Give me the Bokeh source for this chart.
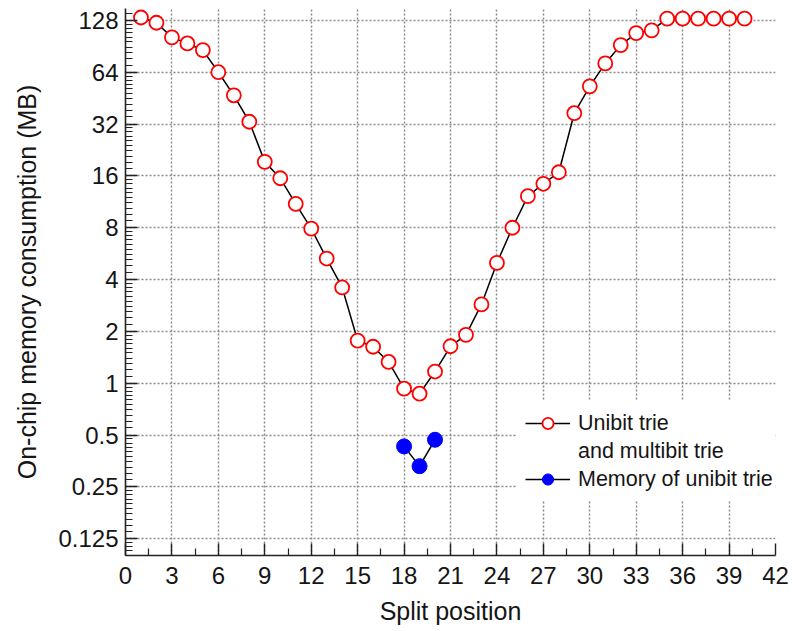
import numpy as np
from bokeh.plotting import figure
from bokeh.models import FixedTicker, Legend, LegendItem, Range1d
from bokeh.embed import file_html
from bokeh.resources import INLINE

# ---- data ----
split_pos = list(range(1, 41))
unibit_multibit = [133, 124, 102, 94, 86, 64, 47, 33, 19.3, 15.5,
                   11.0, 7.9, 5.3, 3.6, 1.77, 1.63, 1.33, 0.93, 0.87, 1.17,
                   1.64, 1.91, 2.87, 5.0, 8.0, 12.2, 14.4, 16.8, 37, 53,
                   72, 92, 108, 112, 131, 131, 131, 131, 131, 131]
unibit_pos = [18, 19, 20]
unibit_mem = [0.43, 0.33, 0.47]
x_ticks = list(range(0, 43, 3))
y_ticks = [0.125, 0.25, 0.5, 1, 2, 4, 8, 16, 32, 64, 128]
y_labels = ["0.125", "0.25", "0.5", "1", "2", "4", "8", "16", "32", "64", "128"]

FONT = "Liberation Sans"
TXT = "#151515"

p = figure(width=798, height=631, y_axis_type="log",
           x_range=Range1d(0, 42), y_range=Range1d(0.1, 150),
           output_backend="svg", toolbar_location=None,
           min_border_left=125, min_border_right=23,
           min_border_top=8, min_border_bottom=76)
p.outline_line_color = None
p.background_fill_color = "white"

# ticks
x_minor = [t + 1.5 for t in x_ticks[:-1]]
y_minor = []
for b in [0.0625] + y_ticks:
    for k in range(1, 10):
        v = b * (1 + k / 10)
        if 0.1 <= v <= 150:
            y_minor.append(v)
p.xaxis.ticker = FixedTicker(ticks=x_ticks, minor_ticks=x_minor)
p.yaxis.ticker = FixedTicker(ticks=y_ticks, minor_ticks=y_minor)
p.yaxis.major_label_overrides = {t: l for t, l in zip(y_ticks, y_labels)}

for ax in (p.xaxis, p.yaxis):
    ax.axis_line_width = 1.6
    ax.axis_line_color = "#222222"
    ax.major_tick_in = 12
    ax.major_tick_out = 0
    ax.minor_tick_in = 7
    ax.minor_tick_out = 0
    ax.major_tick_line_width = 1.4
    ax.minor_tick_line_width = 1.2
    ax.major_tick_line_color = "#222222"
    ax.minor_tick_line_color = "#222222"
    ax.major_label_text_font = FONT
    ax.major_label_text_font_size = "24px"
    ax.major_label_text_color = TXT
    ax.axis_label_text_font = FONT
    ax.axis_label_text_font_size = "25px"
    ax.axis_label_text_font_style = "normal"
    ax.axis_label_text_color = TXT

p.xaxis.axis_label = "Split position"
p.yaxis.axis_label = "On-chip memory consumption (MB)"
p.xaxis.major_label_standoff = 11
p.yaxis.major_label_standoff = 7
p.xaxis.axis_label_standoff = 10
p.yaxis.axis_label_standoff = 14

for g in (p.xgrid, p.ygrid):
    g.grid_line_color = "#8a8a8a"
    g.grid_line_dash = "2 2"
    g.grid_line_width = 1.5

# series
l1 = p.line(split_pos, unibit_multibit, line_color="black", line_width=1.5)
s1 = p.scatter(split_pos, unibit_multibit, size=14, fill_color="white",
               line_color="red", line_width=1.8)
l2 = p.line(unibit_pos, unibit_mem, line_color="black", line_width=1.5)
s2 = p.scatter(unibit_pos, unibit_mem, size=15, fill_color="blue",
               line_color="blue", line_width=1)

legend = Legend(items=[
    LegendItem(label="Unibit trie", renderers=[l1, s1]),
    LegendItem(label="and multibit trie", renderers=[]),
    LegendItem(label="Memory of unibit trie", renderers=[l2, s2]),
], location=(392, 54))
legend.background_fill_color = "white"
legend.background_fill_alpha = 1
legend.border_line_alpha = 0
legend.label_text_font = FONT
legend.label_text_font_size = "21.5px"
legend.label_text_color = TXT
legend.glyph_width = 45
legend.glyph_height = 28
legend.label_standoff = 8
legend.spacing = 0
legend.padding = 8
legend.margin = 0
p.add_layout(legend)

open("out.html", "w").write(file_html(p, INLINE))
